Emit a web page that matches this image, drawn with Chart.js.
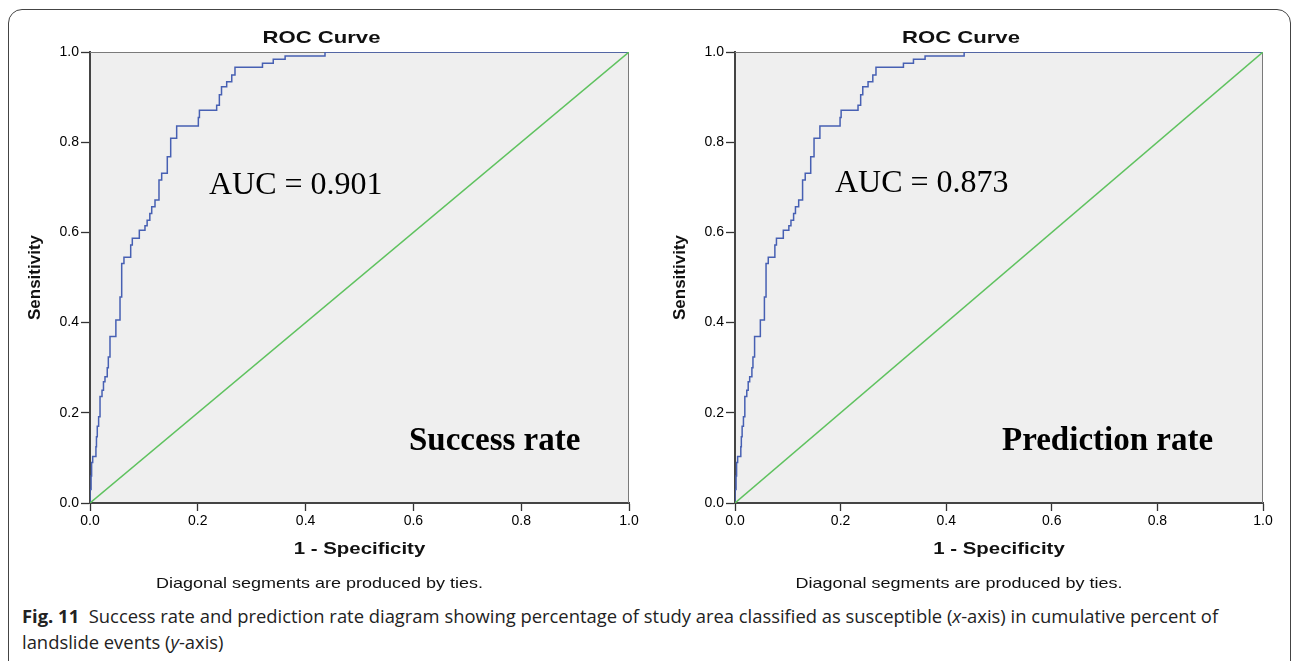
<!DOCTYPE html>
<html><head><meta charset="utf-8">
<script src="https://cdn.jsdelivr.net/npm/chart.js@4"></script>
<style>
html,body{margin:0;padding:0;background:#fff;width:1292px;height:661px;overflow:hidden;position:relative}
#frame{position:absolute;left:8px;top:9px;width:1283px;height:720px;border:1px solid #444;border-radius:14px;box-sizing:border-box}
.cv{position:absolute;top:0;height:600px;width:646px}
#cap{position:absolute;left:22px;top:603px;font-family:'Open Sans','Noto Sans',sans-serif;font-size:18.4px;line-height:26px;color:#222;white-space:nowrap}
</style></head>
<body>
<div id="frame"></div>
<div class="cv" style="left:0"><canvas id="c1" width="646" height="600"></canvas></div>
<div class="cv" style="left:646px"><canvas id="c2" width="646" height="600"></canvas></div>
<div id="cap"><b>Fig. 11</b>&nbsp; Success rate and prediction rate diagram showing percentage of study area classified as susceptible (<i>x</i>-axis) in cumulative percent of<br>landslide events (<i>y</i>-axis)</div>
<script>
// ---- data ----
const successFpr = [0,0.002,0.003,0.005,0.006,0.011,0.012,0.0135,0.016,0.0186,0.0223,0.025,0.0278,0.032,0.034,0.0371,0.0414,0.048,0.0495,0.0557,0.0588,0.063,0.068,0.0755,0.0785,0.080,0.0915,0.096,0.102,0.106,0.111,0.1145,0.1206,0.128,0.133,0.1434,0.1497,0.1608,0.170,0.201,0.203,0.209,0.235,0.240,0.244,0.2536,0.263,0.269,0.273,0.320,0.320,0.340,0.340,0.362,0.362,0.436,0.436,1.0];
const successTpr = [0,0.03,0.06,0.09,0.103,0.103,0.125,0.147,0.17,0.191,0.236,0.25,0.269,0.28,0.30,0.324,0.369,0.369,0.406,0.406,0.457,0.531,0.545,0.545,0.572,0.587,0.587,0.605,0.605,0.615,0.627,0.642,0.657,0.672,0.716,0.731,0.768,0.809,0.836,0.836,0.855,0.871,0.871,0.882,0.905,0.923,0.934,0.949,0.966,0.966,0.975,0.975,0.984,0.984,0.991,0.991,1.0,1.0];
const predictionFpr = [0,0.002,0.003,0.005,0.006,0.011,0.012,0.0135,0.016,0.0186,0.0223,0.025,0.0278,0.032,0.034,0.0371,0.0414,0.048,0.0495,0.0557,0.0588,0.063,0.068,0.0755,0.0785,0.080,0.0915,0.096,0.102,0.106,0.111,0.1145,0.1206,0.128,0.133,0.1434,0.1497,0.1608,0.170,0.199,0.201,0.207,0.233,0.238,0.242,0.252,0.261,0.267,0.272,0.319,0.319,0.338,0.338,0.360,0.360,0.434,0.434,1.0];
const predictionTpr = [0,0.03,0.06,0.09,0.103,0.103,0.125,0.147,0.17,0.191,0.236,0.25,0.269,0.28,0.30,0.324,0.369,0.369,0.406,0.406,0.457,0.531,0.545,0.545,0.572,0.587,0.587,0.605,0.605,0.615,0.627,0.642,0.657,0.672,0.716,0.731,0.768,0.809,0.836,0.836,0.855,0.871,0.871,0.882,0.905,0.923,0.934,0.949,0.966,0.966,0.975,0.975,0.984,0.984,0.991,0.991,1.0,1.0];
const referenceX = [0, 1];
const referenceY = [0, 1];
const tickValues = [0, 0.2, 0.4, 0.6, 0.8, 1.0];
const chartTitle = 'ROC Curve';
const xTitle = '1 - Specificity';
const yTitle = 'Sensitivity';
const footNote = 'Diagonal segments are produced by ties.';

function pts(xs, ys){ return xs.map((x,i)=>({x:x, y:ys[i]})); }

function stretchText(ctx, text, x, y, font, sx, align){
  ctx.save();
  ctx.translate(x, y);
  ctx.scale(sx, 1);
  ctx.font = font;
  ctx.textAlign = align;
  ctx.textBaseline = 'alphabetic';
  ctx.fillText(text, 0, 0);
  ctx.restore();
}

const panelPlugin = {
  id: 'panel',
  beforeDraw(chart){
    const {ctx, chartArea:a} = chart;
    ctx.save();
    ctx.fillStyle = '#efefef';
    ctx.fillRect(a.left, a.top, a.width, a.height);
    ctx.restore();
  },
  beforeDatasetsDraw(chart){
    const {ctx, chartArea:a} = chart;
    ctx.save();
    ctx.strokeStyle = '#7a7a7a';
    ctx.lineWidth = 1;
    ctx.beginPath();
    ctx.moveTo(a.left, a.top + 0.5);
    ctx.lineTo(a.right - 0.5, a.top + 0.5);
    ctx.lineTo(a.right - 0.5, a.bottom);
    ctx.stroke();
    ctx.restore();
  },
  afterDraw(chart){
    const o = chart.options.plugins.panel;
    const {ctx, chartArea:a} = chart;
    const cx = (a.left + a.right) / 2;
    ctx.save();
    ctx.fillStyle = '#111';
    stretchText(ctx, chartTitle, cx - 38, 43, 'bold 17px "Liberation Sans", Arial', 1.3, 'center');
    stretchText(ctx, xTitle, cx, 554, 'bold 17px "Liberation Sans", Arial', 1.2, 'center');
    stretchText(ctx, footNote, cx - 40, 588, '15px "Liberation Sans", Arial', 1.2, 'center');
    ctx.save();
    ctx.translate(a.left - 55, (a.top + a.bottom) / 2);
    ctx.rotate(-Math.PI / 2);
    ctx.font = 'bold 17px "Liberation Sans", Arial';
    ctx.textAlign = 'center';
    ctx.textBaseline = 'middle';
    ctx.fillText(yTitle, 0, 0);
    ctx.restore();
    ctx.fillStyle = '#000';
    ctx.font = '32px "Liberation Serif", "Times New Roman", serif';
    ctx.textAlign = 'left';
    ctx.fillText(o.auc, a.left + o.aucDx, o.aucY);
    ctx.font = 'bold 33px "Liberation Serif", "Times New Roman", serif';
    ctx.fillText(o.label, a.left + o.labelDx, 450);
    ctx.restore();
  }
};

function makeChart(id, fpr, tpr, yWidth, padRight, auc, aucDx, aucY, label, labelDx){
  return new Chart(document.getElementById(id), {
    type: 'line',
    data: {
      datasets: [
        { data: pts(referenceX, referenceY), borderColor: '#5fc25f', borderWidth: 1.5, pointRadius: 0, fill: false },
        { data: pts(fpr, tpr), borderColor: '#4760b3', borderWidth: 1.5, pointRadius: 0, fill: false, stepped: 'after' }
      ]
    },
    options: {
      responsive: false,
      maintainAspectRatio: false,
      animation: false,
      events: [],
      layout: { autoPadding: false, padding: { left: 0, right: padRight, top: 52, bottom: 0 } },
      plugins: {
        legend: { display: false },
        tooltip: { enabled: false },
        title: { display: false },
        panel: { auc: auc, aucDx: aucDx, aucY: aucY, label: label, labelDx: labelDx }
      },
      scales: {
        x: {
          type: 'linear', min: 0, max: 1,
          afterBuildTicks: s => { s.ticks = tickValues.map(v => ({value: v})); },
          afterFit: s => { s.height = 97; },
          ticks: { callback: v => v.toFixed(1), font: { family: '"Liberation Sans", Arial', size: 14 }, color: '#000', padding: 2, maxRotation: 0, autoSkip: false },
          grid: { drawOnChartArea: false, drawTicks: true, tickLength: 8, tickColor: '#333', tickWidth: 1.3 },
          border: { display: true, color: '#444', width: 2 }
        },
        y: {
          type: 'linear', min: 0, max: 1,
          afterBuildTicks: s => { s.ticks = tickValues.map(v => ({value: v})); },
          afterFit: s => { s.width = yWidth; },
          ticks: { callback: v => v.toFixed(1), font: { family: '"Liberation Sans", Arial', size: 14 }, color: '#000', padding: 2, autoSkip: false },
          grid: { drawOnChartArea: false, drawTicks: true, tickLength: 9, tickColor: '#333', tickWidth: 1.3 },
          border: { display: true, color: '#444', width: 2 }
        }
      }
    },
    plugins: [panelPlugin]
  });
}

makeChart('c1', successFpr, successTpr, 90, 17, 'AUC = 0.901', 119, 194, 'Success rate', 319);
makeChart('c2', predictionFpr, predictionTpr, 89, 29, 'AUC = 0.873', 100, 192, 'Prediction rate', 267);
</script>
</body></html>
